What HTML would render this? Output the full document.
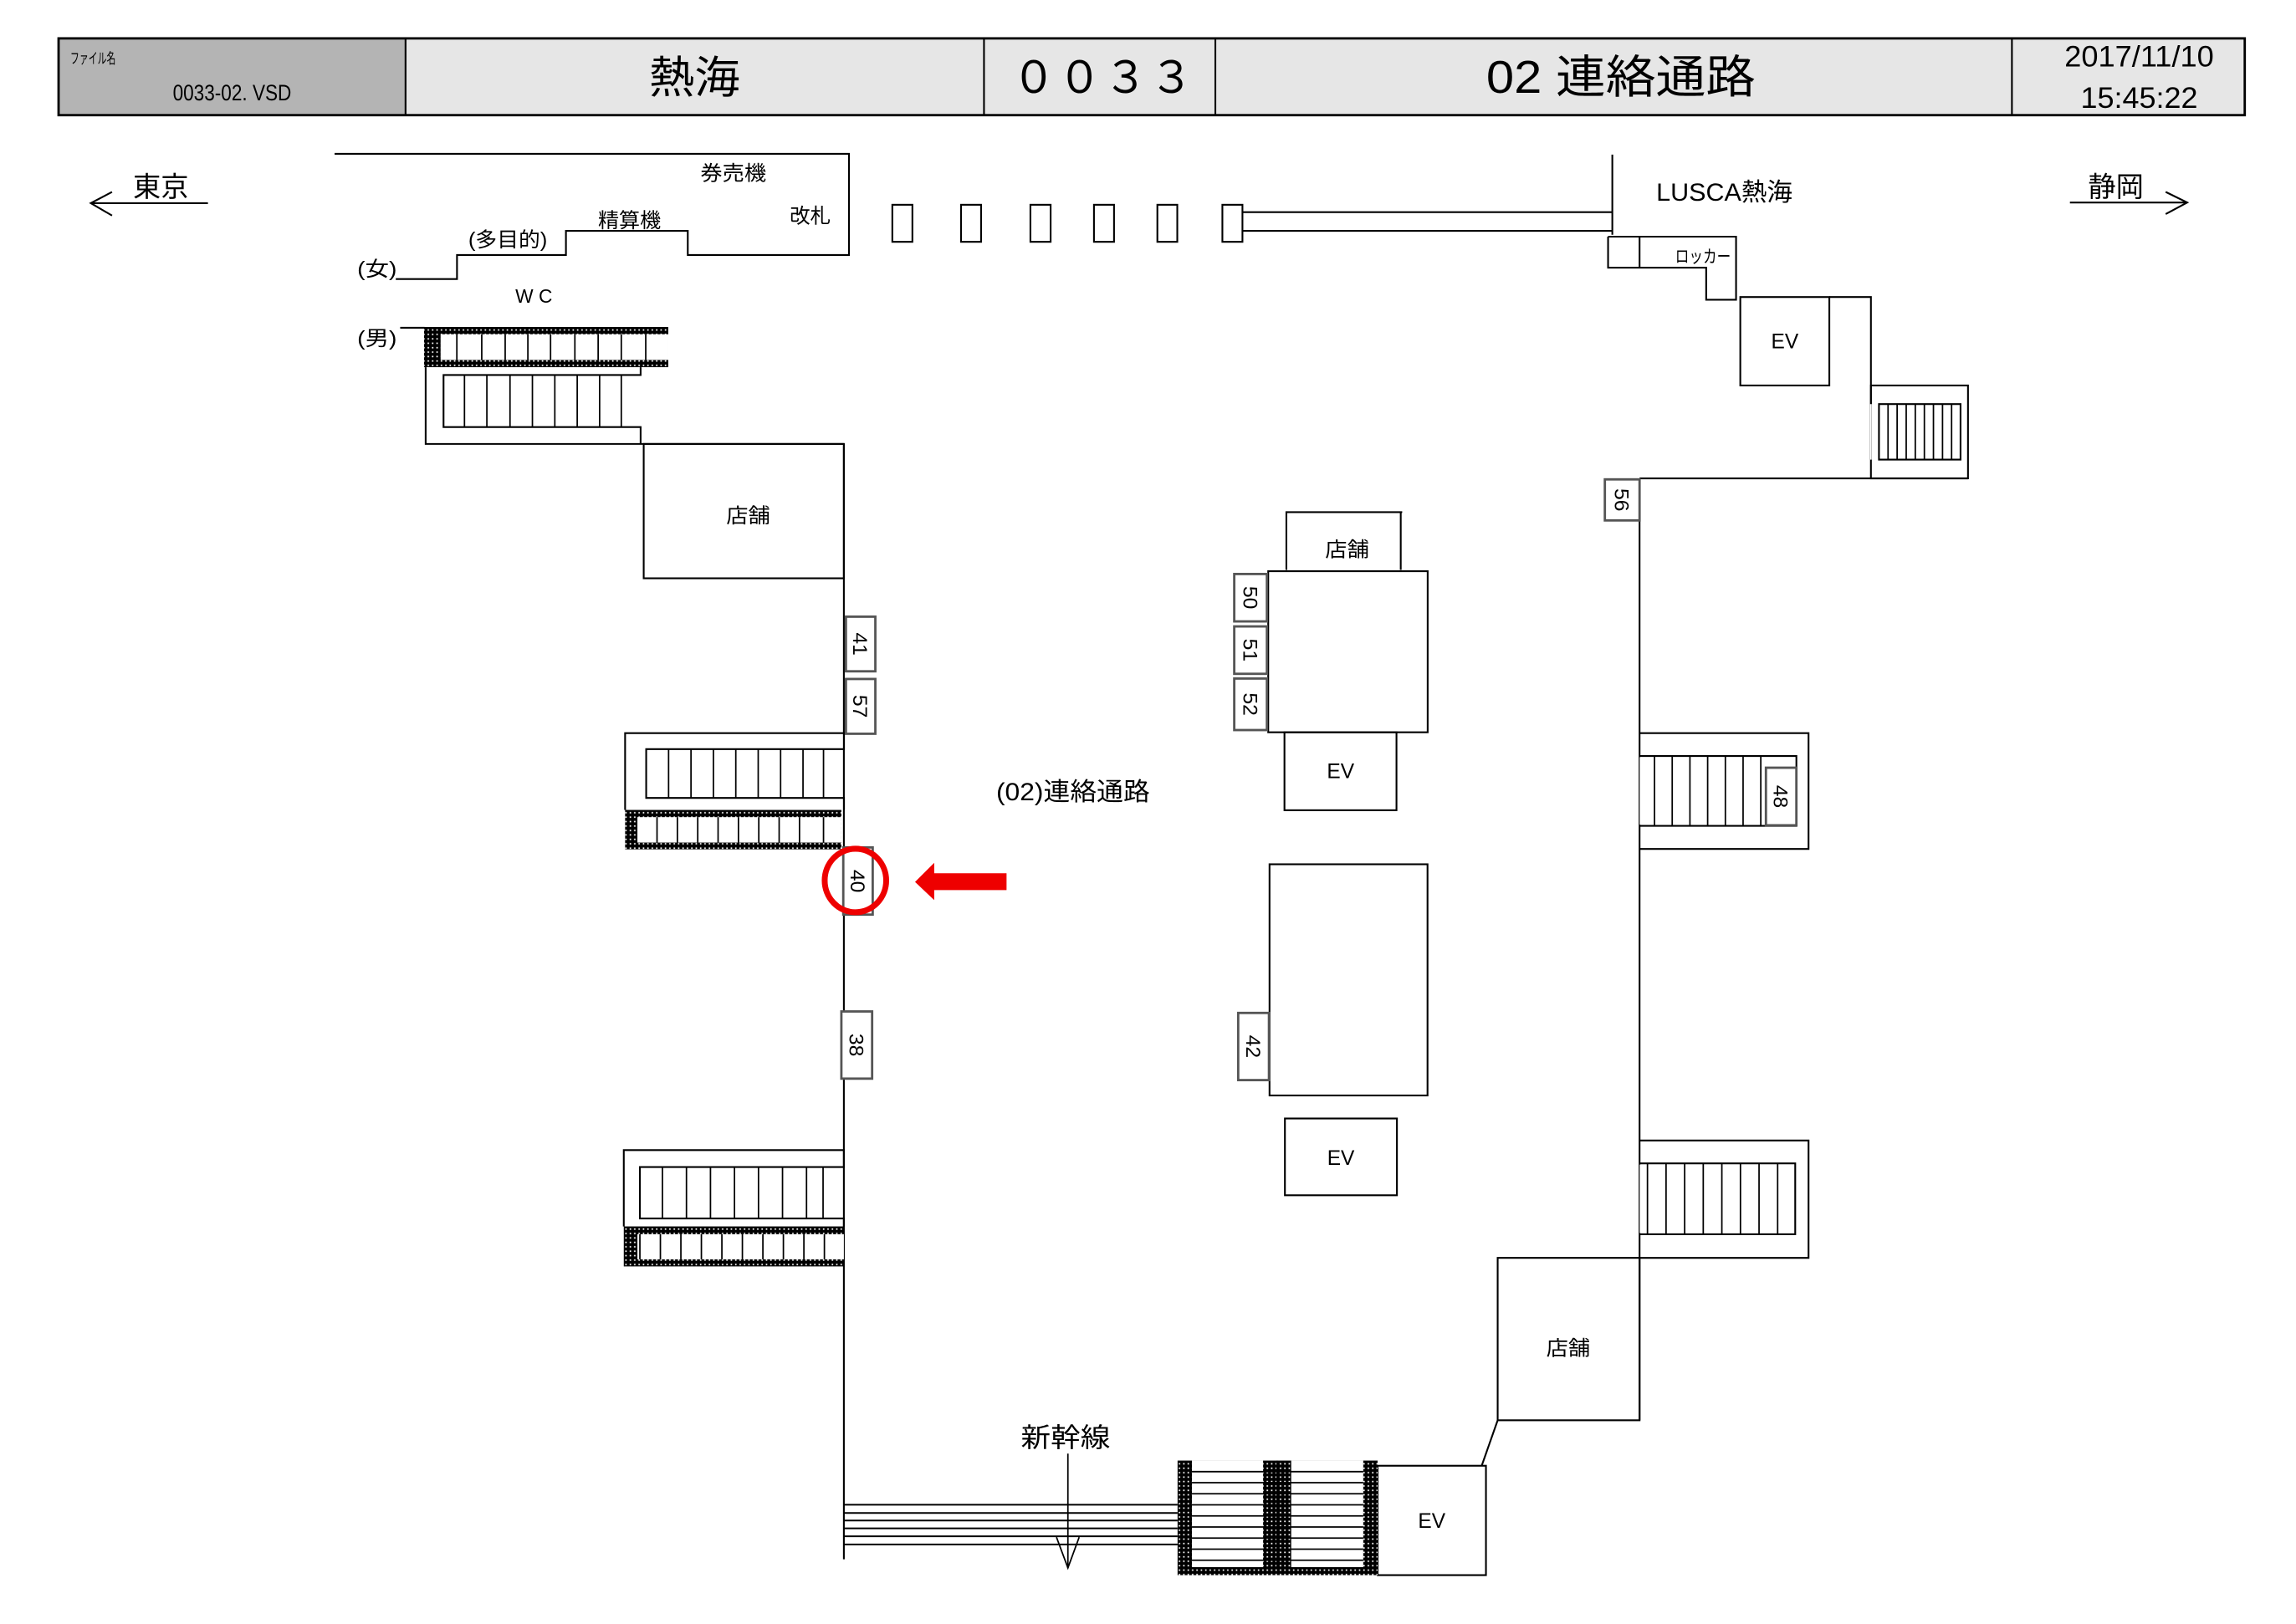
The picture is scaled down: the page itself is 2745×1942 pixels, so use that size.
<!DOCTYPE html>
<html><head><meta charset="utf-8">
<style>
html,body{margin:0;padding:0;background:#fff;}
svg{display:block;}
text{font-family:"Liberation Sans","Noto Sans CJK JP",sans-serif;fill:#000;}
</style></head>
<body>
<svg width="2745" height="1942" viewBox="0 0 1568 1100" preserveAspectRatio="none" xmlns="http://www.w3.org/2000/svg">
<defs>
<pattern id="dots" width="3" height="3" patternUnits="userSpaceOnUse">
<rect width="3" height="3" fill="#000"/>
<rect x="1" y="1" width="1" height="1" fill="#fff"/>
</pattern>
</defs>
<rect width="1568" height="1100" fill="#fff"/>
<g stroke="#000" stroke-width="1.2" fill="none">
<!-- header -->
<rect x="40" y="26" width="237" height="52" fill="#b4b4b4"/>
<rect x="277" y="26" width="1256" height="52" fill="#e6e6e6"/>
<line x1="672" y1="26" x2="672" y2="78"/>
<line x1="830" y1="26" x2="830" y2="78"/>
<line x1="1374" y1="26" x2="1374" y2="78"/>
<rect x="40" y="26" width="1493" height="52" stroke-width="1.6"/>

<!-- 東京 arrow -->
<line x1="62" y1="137.6" x2="142" y2="137.6"/>
<polyline points="76.5,130 62,137.6 76.5,146"/>
<!-- 静岡 arrow -->
<line x1="1413.6" y1="137.2" x2="1493.7" y2="137.2"/>
<polyline points="1479,130 1493.7,137.2 1479,145"/>

<!-- ticket area outline -->
<polyline points="228.5,104.2 579.8,104.2 579.8,172.7 469.7,172.7 469.7,156.4 386.5,156.4 386.5,172.7 312.1,172.7 312.1,189 270.3,189"/>

<!-- gates -->
<rect x="609.4" y="138.7" width="13.7" height="25.1"/>
<rect x="656.3" y="138.7" width="13.7" height="25.1"/>
<rect x="703.7" y="138.7" width="13.8" height="25.1"/>
<rect x="747.1" y="138.7" width="13.7" height="25.1"/>
<rect x="790.4" y="138.7" width="13.6" height="25.1"/>
<rect x="834.8" y="138.7" width="13.7" height="25.1"/>
<line x1="848.5" y1="143.7" x2="1101" y2="143.7"/>
<line x1="848.5" y1="156.4" x2="1101" y2="156.4"/>
<line x1="1101.1" y1="104.7" x2="1101.1" y2="159"/>

<!-- locker -->
<polyline points="1098.2,160.3 1185.6,160.3 1185.6,203 1165.2,203 1165.2,181.3 1098.2,181.3 1098.2,160.3"/>
<line x1="1119.7" y1="160.3" x2="1119.7" y2="181.3"/>
<!-- EV top right -->
<rect x="1188.5" y="201.2" width="60.8" height="59.9"/>
<polyline points="1249.3,201.2 1277.7,201.2 1277.7,273.7"/>
<rect x="1277.7" y="261.1" width="66.3" height="62.9"/>
<rect x="1283.2" y="273.7" width="55.7" height="37.6"/>
<line x1="1277.7" y1="273.7" x2="1277.7" y2="311.3" stroke="#fff" stroke-width="1"/>
<g stroke-width="1">
<line x1="1289.4" y1="273.7" x2="1289.4" y2="311.3"/><line x1="1295.6" y1="273.7" x2="1295.6" y2="311.3"/>
<line x1="1301.8" y1="273.7" x2="1301.8" y2="311.3"/><line x1="1308" y1="273.7" x2="1308" y2="311.3"/>
<line x1="1314.2" y1="273.7" x2="1314.2" y2="311.3"/><line x1="1320.4" y1="273.7" x2="1320.4" y2="311.3"/>
<line x1="1326.6" y1="273.7" x2="1326.6" y2="311.3"/><line x1="1332.8" y1="273.7" x2="1332.8" y2="311.3"/>
</g>
<line x1="1119.7" y1="324" x2="1344" y2="324"/>

<!-- right wall -->
<line x1="1119.7" y1="324" x2="1119.7" y2="962"/>
<!-- stair 48 -->
<polyline points="1119.7,496.6 1235.1,496.6 1235.1,575 1119.7,575"/>
<polyline points="1119.7,512.1 1226.8,512.1 1226.8,559.4 1119.7,559.4"/>
<line x1="1120.5" y1="512.8" x2="1120.5" y2="558.6" stroke="#fff" stroke-width="1.4"/>
<g stroke-width="1">
<line x1="1129.9" y1="512.1" x2="1129.9" y2="559.4"/><line x1="1142" y1="512.1" x2="1142" y2="559.4"/>
<line x1="1154.1" y1="512.1" x2="1154.1" y2="559.4"/><line x1="1166.2" y1="512.1" x2="1166.2" y2="559.4"/>
<line x1="1178.3" y1="512.1" x2="1178.3" y2="559.4"/><line x1="1190.4" y1="512.1" x2="1190.4" y2="559.4"/>
<line x1="1202.5" y1="512.1" x2="1202.5" y2="559.4"/>
</g>
<!-- stair 2 right -->
<polyline points="1119.7,772.5 1235.1,772.5 1235.1,852 1119.7,852"/>
<polyline points="1119.7,788 1226,788 1226,836 1119.7,836"/>
<line x1="1120.5" y1="788.8" x2="1120.5" y2="835.2" stroke="#fff" stroke-width="1.4"/>
<g stroke-width="1">
<line x1="1125.1" y1="788" x2="1125.1" y2="836"/><line x1="1137.8" y1="788" x2="1137.8" y2="836"/>
<line x1="1150.5" y1="788" x2="1150.5" y2="836"/><line x1="1163.2" y1="788" x2="1163.2" y2="836"/>
<line x1="1175.9" y1="788" x2="1175.9" y2="836"/><line x1="1188.6" y1="788" x2="1188.6" y2="836"/>
<line x1="1201.3" y1="788" x2="1201.3" y2="836"/><line x1="1214" y1="788" x2="1214" y2="836"/>
</g>
<!-- store bottom right -->
<rect x="1022.8" y="852" width="96.9" height="110"/>
<line x1="1022.8" y1="962" x2="1011.9" y2="992.8"/>
<rect x="940.8" y="992.8" width="74" height="74.1"/>

<!-- bottom escalator -->
<rect x="804.2" y="989.3" width="136.6" height="77.6" fill="url(#dots)" stroke="none"/>
<rect x="814" y="989.3" width="48.6" height="72.2" fill="#fff" stroke="none"/>
<rect x="881.8" y="989.3" width="49.2" height="72.2" fill="#fff" stroke="none"/>
<line x1="872.2" y1="989.3" x2="872.2" y2="1062" stroke="#000" stroke-width="1"/>
<g stroke-width="1">
<line x1="814" y1="996.8" x2="931" y2="996.8"/><line x1="814" y1="1004.3" x2="931" y2="1004.3"/>
<line x1="814" y1="1011.8" x2="931" y2="1011.8"/><line x1="814" y1="1019.3" x2="931" y2="1019.3"/>
<line x1="814" y1="1026.8" x2="931" y2="1026.8"/><line x1="814" y1="1034.3" x2="931" y2="1034.3"/>
<line x1="814" y1="1041.8" x2="931" y2="1041.8"/><line x1="814" y1="1049.3" x2="931" y2="1049.3"/>
<line x1="814" y1="1056.8" x2="931" y2="1056.8"/>
</g>
<line x1="862.6" y1="996.8" x2="881.8" y2="996.8" stroke="none"/>

<!-- tracks -->
<g stroke-width="1.1">
<line x1="576.3" y1="1019.2" x2="804.2" y2="1019.2"/><line x1="576.3" y1="1024.8" x2="804.2" y2="1024.8"/>
<line x1="576.3" y1="1029.9" x2="804.2" y2="1029.9"/><line x1="576.3" y1="1035.2" x2="804.2" y2="1035.2"/>
<line x1="576.3" y1="1040.6" x2="804.2" y2="1040.6"/><line x1="576.3" y1="1046.1" x2="804.2" y2="1046.1"/>
</g>
<line x1="729.3" y1="984.6" x2="729.3" y2="1062" stroke-width="1"/>
<polyline points="721.5,1041.2 729.3,1062 737,1041.2" stroke-width="1"/>

<!-- left wall -->
<line x1="576.3" y1="300.7" x2="576.3" y2="1056.2"/>

<!-- men escalator (WC) -->
<line x1="273.3" y1="222" x2="290" y2="222"/>
<rect x="289.6" y="221.5" width="166.8" height="27.2" fill="url(#dots)" stroke="none"/>
<rect x="300.9" y="226.4" width="155.5" height="17.4" fill="#fff" stroke="none"/>
<g stroke-width="1">
<line x1="297" y1="226.4" x2="297" y2="243.8"/><line x1="312" y1="226.4" x2="312" y2="243.8"/>
<line x1="329" y1="226.4" x2="329" y2="243.8"/><line x1="345" y1="226.4" x2="345" y2="243.8"/>
<line x1="360.5" y1="226.4" x2="360.5" y2="243.8"/><line x1="376" y1="226.4" x2="376" y2="243.8"/>
<line x1="392.6" y1="226.4" x2="392.6" y2="243.8"/><line x1="408.5" y1="226.4" x2="408.5" y2="243.8"/>
<line x1="424.3" y1="226.4" x2="424.3" y2="243.8"/><line x1="441" y1="226.4" x2="441" y2="243.8"/>
</g>
<polyline points="290.7,248.7 290.7,300.7 576.3,300.7"/>
<polyline points="437.5,248.7 437.5,254 302.9,254 302.9,289.3 437.5,289.3 437.5,300.7"/>
<g stroke-width="1">
<line x1="317.2" y1="254" x2="317.2" y2="289.3"/><line x1="332.5" y1="254" x2="332.5" y2="289.3"/>
<line x1="348.3" y1="254" x2="348.3" y2="289.3"/><line x1="363.6" y1="254" x2="363.6" y2="289.3"/>
<line x1="378.9" y1="254" x2="378.9" y2="289.3"/><line x1="394.2" y1="254" x2="394.2" y2="289.3"/>
<line x1="409.5" y1="254" x2="409.5" y2="289.3"/><line x1="424.3" y1="254" x2="424.3" y2="289.3"/>
</g>
<!-- store left -->
<rect x="439.6" y="300.7" width="136.7" height="91"/>

<!-- mid-left stair -->
<rect x="426.9" y="548.6" width="147.7" height="26.7" fill="url(#dots)" stroke="none"/>
<rect x="434.8" y="553.5" width="139.8" height="17.2" fill="#fff" stroke="none"/>
<polyline points="576.4,548.6 576.4,540.5 441.3,540.5 441.3,507.4 576.4,507.4 576.4,496.6 426.9,496.6 426.9,548.6"/>
<g stroke-width="1">
<line x1="456.6" y1="507.4" x2="456.6" y2="540.5"/><line x1="471.9" y1="507.4" x2="471.9" y2="540.5"/>
<line x1="487.2" y1="507.4" x2="487.2" y2="540.5"/><line x1="502.5" y1="507.4" x2="502.5" y2="540.5"/>
<line x1="517.8" y1="507.4" x2="517.8" y2="540.5"/><line x1="533.1" y1="507.4" x2="533.1" y2="540.5"/>
<line x1="548.4" y1="507.4" x2="548.4" y2="540.5"/><line x1="562.4" y1="507.4" x2="562.4" y2="540.5"/>
<line x1="434.8" y1="553.5" x2="434.8" y2="570.7"/><line x1="448.7" y1="553.5" x2="448.7" y2="570.7"/>
<line x1="462.6" y1="553.5" x2="462.6" y2="570.7"/><line x1="476.5" y1="553.5" x2="476.5" y2="570.7"/>
<line x1="490.4" y1="553.5" x2="490.4" y2="570.7"/><line x1="504.3" y1="553.5" x2="504.3" y2="570.7"/>
<line x1="518.2" y1="553.5" x2="518.2" y2="570.7"/><line x1="532.1" y1="553.5" x2="532.1" y2="570.7"/>
<line x1="546" y1="553.5" x2="546" y2="570.7"/><line x1="562.4" y1="553.5" x2="562.4" y2="570.7"/>
</g>

<!-- lower-left stair -->
<rect x="426" y="830.7" width="150.3" height="27.1" fill="url(#dots)" stroke="none"/>
<rect x="435.3" y="836" width="141" height="17" fill="#fff" stroke="none"/>
<polyline points="576.3,830.7 576.3,825.3 437,825.3 437,790.5 576.3,790.5 576.3,779 426,779 426,830.7"/>
<g stroke-width="1">
<line x1="452.4" y1="790.5" x2="452.4" y2="825.3"/><line x1="468.8" y1="790.5" x2="468.8" y2="825.3"/>
<line x1="485.2" y1="790.5" x2="485.2" y2="825.3"/><line x1="501.6" y1="790.5" x2="501.6" y2="825.3"/>
<line x1="518" y1="790.5" x2="518" y2="825.3"/><line x1="534.4" y1="790.5" x2="534.4" y2="825.3"/>
<line x1="550.8" y1="790.5" x2="550.8" y2="825.3"/><line x1="562.1" y1="790.5" x2="562.1" y2="825.3"/>
<line x1="437" y1="836" x2="437" y2="853"/><line x1="451" y1="836" x2="451" y2="853"/>
<line x1="465" y1="836" x2="465" y2="853"/><line x1="479" y1="836" x2="479" y2="853"/>
<line x1="493" y1="836" x2="493" y2="853"/><line x1="507" y1="836" x2="507" y2="853"/>
<line x1="521" y1="836" x2="521" y2="853"/><line x1="535" y1="836" x2="535" y2="853"/>
<line x1="549" y1="836" x2="549" y2="853"/><line x1="563" y1="836" x2="563" y2="853"/>
</g>

<!-- center blocks -->
<polyline points="878.5,386 878.5,346.9 957.6,346.9"/>
<line x1="956.6" y1="346.9" x2="956.6" y2="386"/>
<rect x="866.1" y="386.9" width="108.9" height="109.1"/>
<rect x="877.2" y="496" width="76.5" height="52.8"/>
<rect x="867" y="585.4" width="107.9" height="156.6"/>
<rect x="877.5" y="757.6" width="76.5" height="52"/>
</g>

<!-- number boxes -->
<g stroke="#555" stroke-width="1.6" fill="#fff">
<rect x="577.7" y="417.7" width="20.1" height="37"/>
<rect x="577.7" y="459.9" width="20.1" height="37.1"/>
<rect x="575.9" y="574" width="20.1" height="45.5"/>
<rect x="574.6" y="685.1" width="21" height="45.5"/>
<rect x="842.9" y="388.8" width="22.3" height="32.1"/>
<rect x="842.9" y="424.3" width="22.3" height="32.1"/>
<rect x="842.9" y="459.6" width="22.3" height="34.9"/>
<rect x="845.6" y="686.1" width="21" height="45.5"/>
<rect x="1096" y="324.7" width="23.7" height="27.8"/>
<rect x="1206" y="520" width="20.8" height="39"/>
</g>
<g font-size="14" text-anchor="middle">
<text transform="translate(587.7,436.2) rotate(90)" dy="5">41</text>
<text transform="translate(587.7,478.4) rotate(90)" dy="5">57</text>
<text transform="translate(586,596.8) rotate(90)" dy="5">40</text>
<text transform="translate(585.1,707.8) rotate(90)" dy="5">38</text>
<text transform="translate(854,404.8) rotate(90)" dy="5">50</text>
<text transform="translate(854,440.3) rotate(90)" dy="5">51</text>
<text transform="translate(854,477) rotate(90)" dy="5">52</text>
<text transform="translate(856.1,708.8) rotate(90)" dy="5">42</text>
<text transform="translate(1107.8,338.6) rotate(90)" dy="5">56</text>
<text transform="translate(1216.4,539.5) rotate(90)" dy="5">48</text>
</g>

<!-- red marker -->
<ellipse cx="584.2" cy="596.4" rx="21" ry="21.5" fill="none" stroke="#e00" stroke-width="4"/>
<polygon points="624.9,597.4 638,584.4 638,591.5 687.4,591.5 687.4,602.9 638,602.9 638,609.7" fill="#e00"/>

<!-- texts -->
<text x="48" y="43" font-size="10" textLength="31" lengthAdjust="spacingAndGlyphs">ファイル名</text>
<text x="118" y="68" font-size="15" textLength="81" lengthAdjust="spacingAndGlyphs">0033-02. VSD</text>
<text x="474.3" y="63" font-size="30" text-anchor="middle" textLength="62" lengthAdjust="spacingAndGlyphs">熱海</text>
<text x="691" y="63" font-size="30" textLength="124" lengthAdjust="spacing">００３３</text>
<text x="1015" y="63" font-size="31" textLength="184" lengthAdjust="spacingAndGlyphs">02  連絡通路</text>
<text x="1460.9" y="45" font-size="20" text-anchor="middle" textLength="102" lengthAdjust="spacingAndGlyphs">2017/11/10</text>
<text x="1460.9" y="73" font-size="20" text-anchor="middle" textLength="80" lengthAdjust="spacingAndGlyphs">15:45:22</text>

<text x="90.8" y="133" font-size="19" textLength="38" lengthAdjust="spacingAndGlyphs">東京</text>
<text x="1426" y="133" font-size="19" textLength="38" lengthAdjust="spacingAndGlyphs">静岡</text>
<text x="1177.6" y="136" font-size="17" text-anchor="middle" textLength="93" lengthAdjust="spacingAndGlyphs">LUSCA熱海</text>

<g font-size="14" text-anchor="middle">
<text x="500.8" y="122" textLength="45" lengthAdjust="spacingAndGlyphs">券売機</text>
<text x="553.3" y="151" textLength="28" lengthAdjust="spacingAndGlyphs">改札</text>
<text x="429.9" y="154" textLength="43" lengthAdjust="spacingAndGlyphs">精算機</text>
<text x="346.8" y="167" textLength="54" lengthAdjust="spacingAndGlyphs">(多目的)</text>
<text x="257.5" y="187" textLength="27" lengthAdjust="spacingAndGlyphs">(女)</text>
<text x="364.6" y="205" font-size="13">W C</text>
<text x="257.5" y="234" textLength="27" lengthAdjust="spacingAndGlyphs">(男)</text>
<text x="1163" y="178" font-size="12" textLength="38" lengthAdjust="spacingAndGlyphs">ロッカー</text>
<text x="1218.9" y="236" font-size="14">EV</text>
<text x="511" y="354" textLength="30" lengthAdjust="spacingAndGlyphs">店舗</text>
<text x="920" y="377" textLength="30" lengthAdjust="spacingAndGlyphs">店舗</text>
<text x="915.5" y="527" font-size="14">EV</text>
<text x="915.7" y="789" font-size="14">EV</text>
<text x="1071" y="918" textLength="30" lengthAdjust="spacingAndGlyphs">店舗</text>
<text x="977.8" y="1035" font-size="14">EV</text>
<text x="732.8" y="542" font-size="17" textLength="105" lengthAdjust="spacingAndGlyphs">(02)連絡通路</text>
<text x="727.7" y="980" font-size="18" textLength="61" lengthAdjust="spacingAndGlyphs">新幹線</text>
</g>
</svg>
</body></html>
